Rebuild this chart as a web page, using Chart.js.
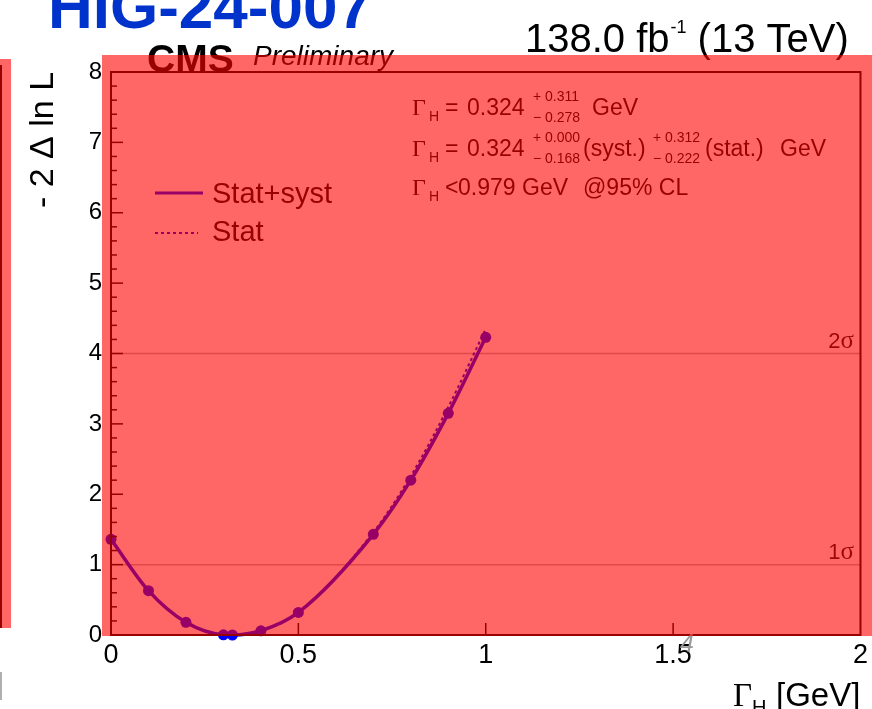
<!DOCTYPE html>
<html>
<head>
<meta charset="utf-8">
<title>Higgs width likelihood scan</title>
<script src="https://cdn.jsdelivr.net/npm/chart.js@4"></script>
<style>
  html, body { margin: 0; padding: 0; background: #fff; }
  #wrap { width: 872px; height: 709px; }
</style>
</head>
<body>
<div id="wrap"><canvas id="scanChart" width="872" height="709"></canvas></div>
<script>
// Scan points: width hypothesis in GeV and -2 delta ln L
const widthPoints = [0, 0.1, 0.2, 0.3, 0.324, 0.4, 0.5, 0.7, 0.8, 0.9, 1.0];
const statSystNll = [1.36, 0.63, 0.18, 0.003, 0, 0.06, 0.32, 1.43, 2.2, 3.15, 4.23];
const statOnlyNll = [1.36, 0.63, 0.18, 0.003, 0, 0.06, 0.32, 1.46, 2.26, 3.24, 4.35];

// 1 sigma / 2 sigma levels
const sigmaLevels = [1, 4];
const sigmaLabels = ['1', '2'];

const xTicks = [0, 0.5, 1, 1.5, 2];
const yTicks = [0, 1, 2, 3, 4, 5, 6, 7, 8];

const SANS = '"Liberation Sans", Arial, Helvetica, sans-serif';
const SERIF = '"Liberation Serif", "Times New Roman", serif';
const CURVE = '#0000ff';

function toPoints(xs, ys) {
    return xs.map((x, i) => ({ x: x, y: ys[i] }));
}

function text(ctx, s, x, y, font, color, align) {
    ctx.font = font;
    ctx.fillStyle = color || '#000';
    ctx.textAlign = align || 'left';
    ctx.textBaseline = 'alphabetic';
    ctx.fillText(s, x, y);
    return ctx.measureText(s).width;
}

function seg(ctx, x1, y1, x2, y2) {
    ctx.beginPath();
    ctx.moveTo(x1, y1);
    ctx.lineTo(x2, y2);
    ctx.stroke();
}

// Gamma_H with subscript
function gammaH(ctx, x, base) {
    text(ctx, 'Γ', x, base, '24px ' + SERIF);
    text(ctx, 'H', x + 17, base + 6, '14px ' + SANS);
}

function supSub(ctx, x, base, sup, sub) {
    text(ctx, sup, x, base - 14, '14px ' + SANS);
    text(ctx, sub, x, base + 7, '14px ' + SANS);
}

const whiteBg = {
    id: 'whiteBg',
    beforeDraw(chart) {
        const ctx = chart.ctx;
        ctx.save();
        ctx.fillStyle = '#fff';
        ctx.fillRect(0, 0, chart.width, chart.height);
        ctx.restore();
    }
};

const decorations = {
    id: 'decorations',
    afterDraw(chart) {
        const ctx = chart.ctx;
        const a = chart.chartArea;
        const xs = chart.scales.x, ys = chart.scales.y;
        ctx.save();

        // frame
        ctx.strokeStyle = '#000';
        ctx.lineWidth = 2;
        ctx.strokeRect(a.left, a.top, a.right - a.left, a.bottom - a.top);

        // y ticks inside the frame, minor every 0.2
        ctx.lineWidth = 1.5;
        for (let i = 0; i <= 40; i++) {
            const py = ys.getPixelForValue(i * 0.2);
            seg(ctx, a.left, py, a.left + (i % 5 === 0 ? 12 : 6), py);
        }
        // x ticks
        xTicks.forEach(v => {
            if (v <= xs.min || v >= xs.max) return;
            const px = xs.getPixelForValue(v);
            seg(ctx, px, a.bottom, px, a.bottom - 12);
        });

        // sigma labels
        sigmaLevels.forEach((lv, i) => {
            const py = ys.getPixelForValue(lv);
            ctx.font = '25px ' + SERIF;
            const w = ctx.measureText('σ').width;
            text(ctx, 'σ', 854, py - 6, '25px ' + SERIF, '#111', 'right');
            text(ctx, sigmaLabels[i], 854 - w, py - 6, '22px ' + SANS, '#111', 'right');
        });

        // fit results
        gammaH(ctx, 412, 115);
        text(ctx, '=', 445, 115, '23px ' + SANS);
        text(ctx, '0.324', 467, 115, '23px ' + SANS);
        supSub(ctx, 533, 115, '+ 0.311', '− 0.278');
        text(ctx, 'GeV', 592, 115, '23px ' + SANS);

        gammaH(ctx, 412, 156);
        text(ctx, '=', 445, 156, '23px ' + SANS);
        text(ctx, '0.324', 467, 156, '23px ' + SANS);
        supSub(ctx, 533, 156, '+ 0.000', '− 0.168');
        text(ctx, '(syst.)', 583, 156, '23px ' + SANS);
        supSub(ctx, 653, 156, '+ 0.312', '− 0.222');
        text(ctx, '(stat.)', 705, 156, '23px ' + SANS);
        text(ctx, 'GeV', 780, 156, '23px ' + SANS);

        gammaH(ctx, 412, 195);
        text(ctx, '<', 445, 195, '23px ' + SANS);
        text(ctx, '0.979', 458, 195, '23px ' + SANS);
        text(ctx, 'GeV', 522, 195, '23px ' + SANS);
        text(ctx, '@95% CL', 583, 195, '23px ' + SANS);

        // legend
        ctx.strokeStyle = CURVE;
        ctx.lineWidth = 3;
        seg(ctx, 155, 193, 203, 193);
        text(ctx, 'Stat+syst', 212, 203, '29px ' + SANS);
        ctx.lineWidth = 2;
        ctx.setLineDash([3, 3]);
        seg(ctx, 155, 233, 198, 233);
        ctx.setLineDash([]);
        text(ctx, 'Stat', 212, 241, '29px ' + SANS);

        // CMS labels
        text(ctx, 'CMS', 147, 72, 'bold 39px ' + SANS);
        text(ctx, 'Preliminary', 253, 65, 'italic 28px ' + SANS);
        const fbw = text(ctx, '138.0 fb', 525, 52, '40px ' + SANS);
        const supw = text(ctx, '-1', 525 + fbw + 1, 33, '18px ' + SANS);
        text(ctx, '(13 TeV)', 525 + fbw + supw + 12, 52, '40px ' + SANS);

        // axis titles
        ctx.save();
        ctx.translate(53, 140);
        ctx.rotate(-Math.PI / 2);
        text(ctx, '- 2 Δ ln L', 0, 0, '34px ' + SANS, '#000', 'center');
        ctx.restore();
        text(ctx, 'Γ', 733, 706, '33px ' + SERIF);
        text(ctx, 'H', 752, 714, '20px ' + SANS);
        text(ctx, '[GeV]', 776, 706, '33px ' + SANS);

        // slide header and page number
        text(ctx, 'HIG-24-007', 48, 28, 'bold 62px ' + SANS, '#0033cc');
        text(ctx, '4', 680, 652, 'italic 25px ' + SANS, '#999');
        ctx.strokeStyle = '#b0b0b0';
        ctx.lineWidth = 2;
        seg(ctx, 1, 672, 1, 700);

        // left strip
        ctx.strokeStyle = '#000';
        ctx.lineWidth = 2;
        seg(ctx, 1, 65, 1, 628);

        // translucent red highlight boxes
        ctx.fillStyle = 'rgba(255, 0, 0, 0.6)';
        ctx.fillRect(102, 55, 770, 581);
        ctx.fillRect(0, 59, 11, 569);

        ctx.restore();
    }
};

const sigmaSets = sigmaLevels.map(lv => ({
    data: [{ x: 0, y: lv }, { x: 2, y: lv }],
    borderColor: '#b4b4b4',
    borderWidth: 1.5,
    pointRadius: 0,
    order: 3
}));

new Chart(document.getElementById('scanChart'), {
    type: 'line',
    data: {
        datasets: [
            {
                label: 'Stat',
                data: toPoints(widthPoints, statOnlyNll),
                borderColor: CURVE,
                borderWidth: 2,
                borderDash: [3, 3],
                pointRadius: 0,
                cubicInterpolationMode: 'monotone',
                clip: false,
                order: 1
            },
            {
                label: 'Stat+syst',
                data: toPoints(widthPoints, statSystNll),
                borderColor: CURVE,
                backgroundColor: CURVE,
                borderWidth: 3.5,
                pointRadius: 5.5,
                pointBorderWidth: 0,
                pointBackgroundColor: CURVE,
                cubicInterpolationMode: 'monotone',
                clip: false,
                order: 2
            }
        ].concat(sigmaSets)
    },
    options: {
        responsive: false,
        animation: false,
        devicePixelRatio: 1,
        layout: { padding: { top: 72, right: 11, left: 0, bottom: 0 } },
        plugins: { legend: { display: false }, tooltip: { enabled: false } },
        scales: {
            x: {
                type: 'linear',
                min: 0,
                max: 2,
                grid: { display: false, drawTicks: false },
                border: { display: false },
                afterBuildTicks: s => { s.ticks = xTicks.map(v => ({ value: v })); },
                afterFit: s => { s.height = 74; },
                ticks: {
                    padding: 4,
                    autoSkip: false,
                    maxRotation: 0,
                    color: '#000',
                    font: { family: SANS, size: 27 },
                    callback: v => String(v)
                }
            },
            y: {
                type: 'linear',
                min: 0,
                max: 8,
                grid: { display: false, drawTicks: false },
                border: { display: false },
                afterBuildTicks: s => { s.ticks = yTicks.map(v => ({ value: v })); },
                afterFit: s => { s.width = 111; },
                ticks: {
                    padding: 9,
                    autoSkip: false,
                    color: '#000',
                    font: { family: SANS, size: 24 },
                    callback: v => String(v)
                }
            }
        }
    },
    plugins: [whiteBg, decorations]
});
</script>
</body>
</html>
